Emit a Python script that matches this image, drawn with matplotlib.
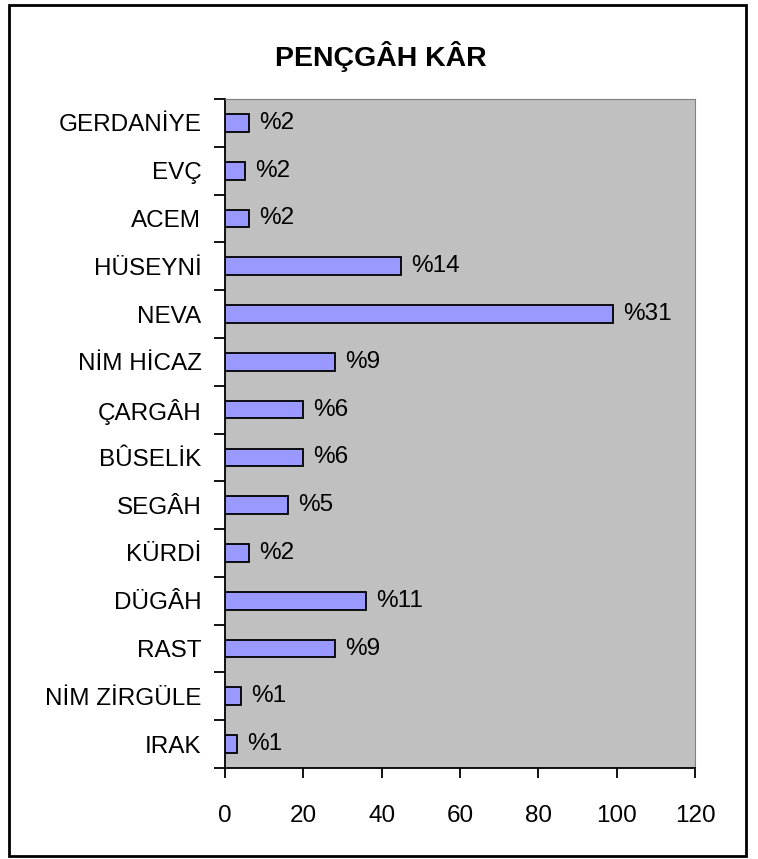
import numpy as np
import matplotlib.pyplot as plt
from matplotlib.patches import Rectangle

# ==============================
# DATA (top to bottom as shown)
# ==============================
makams = [
    "GERDANİYE", "EVÇ", "ACEM", "HÜSEYNİ", "NEVA", "NİM HİCAZ", "ÇARGÂH",
    "BÛSELİK", "SEGÂH", "KÜRDİ", "DÜGÂH", "RAST", "NİM ZİRGÜLE", "IRAK",
]
counts = [6, 5, 6, 45, 99, 28, 20, 20, 16, 6, 36, 28, 4, 3]
pct_labels = ["%2", "%2", "%2", "%14", "%31", "%9", "%6",
              "%6", "%5", "%2", "%11", "%9", "%1", "%1"]
xticks = [0, 20, 40, 60, 80, 100, 120]

plt.rcParams["font.family"] = ["Liberation Sans", "DejaVu Sans"]

W, H = 758, 859
fig = plt.figure(figsize=(W / 100, H / 100), dpi=100)
fig.patch.set_facecolor("white")

# outer chart border
fig.patches.append(Rectangle((9 / W, 3 / H), 737 / W, 851 / H,
                             transform=fig.transFigure, fill=False,
                             edgecolor="black", linewidth=2))

ax = fig.add_axes([225 / W, 1 - 768 / H, 470 / W, 669 / H])
ax.set_facecolor("#C0C0C0")

n = len(makams)
y = np.arange(n)
ax.barh(y, counts, height=0.37, color="#9999FF",
        edgecolor="black", linewidth=1.3, zorder=3)

for yi, v, lab in zip(y, counts, pct_labels):
    ax.text(v + 2.6, yi, lab, va="center", ha="left", fontsize=17.5)

ax.set_ylim(n - 0.5, -0.5)
ax.set_xlim(0, 120)

ax.set_yticks(y)
ax.set_yticklabels(makams, fontsize=17.5)
ax.set_yticks(np.arange(n + 1) - 0.5, minor=True)
ax.tick_params(axis="y", which="major", length=0, pad=17)
ax.tick_params(axis="y", which="minor", length=8, width=1.3, direction="out")

ax.set_xticks(xticks)
ax.set_xticklabels([str(t) for t in xticks], fontsize=17.5)
ax.tick_params(axis="x", length=7, width=1.3, direction="out", pad=20)

ax.spines["left"].set_color("black")
ax.spines["bottom"].set_color("black")
ax.spines["left"].set_linewidth(1.3)
ax.spines["bottom"].set_linewidth(1.3)
ax.spines["top"].set_color("#808080")
ax.spines["right"].set_color("#808080")

fig.text(381 / W, 1 - 56 / H, "PENÇGÂH KÂR", ha="center", va="center",
         fontsize=20.5, fontweight="bold")

fig.savefig("out.png", dpi=100)
plt.close(fig)
